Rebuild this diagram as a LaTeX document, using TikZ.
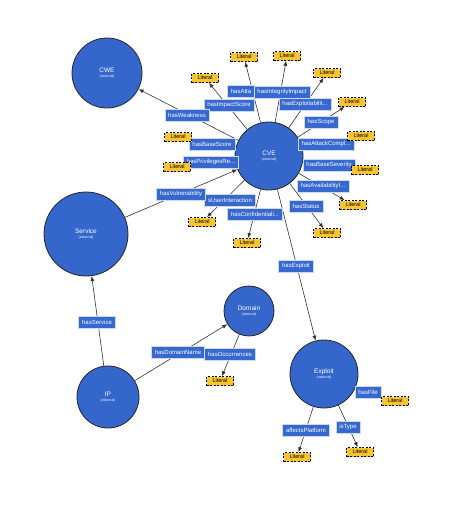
\documentclass[tikz,border=0pt]{standalone}
\usepackage{fontspec}
\setmainfont{Liberation Sans}
\usetikzlibrary{arrows.meta, backgrounds}

\definecolor{nodeblue}{HTML}{3566CC}
\definecolor{lblblue}{HTML}{3668D0}
\definecolor{litgold}{HTML}{F7C531}

\begin{document}
\begin{tikzpicture}[
  x=1pt, y=-1pt,
  res/.style={circle, draw=black!85, line width=0.8pt, fill=nodeblue,
              text=white, align=center, inner sep=0pt,
              font=\fontsize{6.5}{7}\selectfont},
  lbl/.style={draw=white!75!lblblue, line width=0.4pt, fill=lblblue,
              text=white, inner xsep=3.5pt, inner ysep=0pt,
              minimum height=12pt, font=\fontsize{6}{7}\selectfont},
  lit/.style={draw=black, dashed, dash pattern=on 2pt off 1.5pt,
              line width=0.7pt, fill=litgold, minimum width=27pt,
              minimum height=9pt, inner sep=1pt,
              font=\fontsize{5.5}{6}\selectfont},
  arr/.style={-{Latex[length=5pt, width=4pt]}, black!80, line width=0.6pt},
]
  \useasboundingbox (0,0) rectangle (465,512);

  %% ── Resources (circles) ──
  \node[res, minimum size=70pt] (cwe)     at (107, 73)
    {CWE\\[-2.5pt]{\fontsize{3.5}{4}\selectfont (external)}};
  \node[res, minimum size=68pt] (cve)     at (269,156)
    {CVE\\[-2.5pt]{\fontsize{3.5}{4}\selectfont (external)}};
  \node[res, minimum size=84pt] (service) at (86, 234)
    {Service\\[-2.5pt]{\fontsize{3.5}{4}\selectfont (external)}};
  \node[res, minimum size=50pt] (domain)  at (249,311)
    {Domain\\[-2.5pt]{\fontsize{3.5}{4}\selectfont (external)}};
  \node[res, minimum size=62pt] (ip)      at (108,397)
    {IP\\[-2.5pt]{\fontsize{3.5}{4}\selectfont (external)}};
  \node[res, minimum size=68pt] (exploit) at (324,374)
    {Exploit\\[-2.5pt]{\fontsize{3.5}{4}\selectfont (external)}};

  %% ── Property labels ──
  \node[lbl] (lav)   at (241, 91) {hasAtta};
  \node[lbl] (lii)   at (282, 92) {hasIntegrityImpact};
  \node[lbl] (lis)   at (229,105) {hasImpactScore};
  \node[lbl] (lex)   at (305,104) {hasExploitabilit...};
  \node[lbl] (lwk)   at (187,115) {hasWeakness};
  \node[lbl] (lsc)   at (321,122) {hasScope};
  \node[lbl] (lbs)   at (212,144) {hasBaseScore};
  \node[lbl] (lac)   at (326,144) {hasAttackCompl...};
  \node[lbl] (lpr)   at (211,162) {hasPrivilegesRe...};
  \node[lbl] (lsev)  at (329,165) {hasBaseSeverity};
  \node[lbl] (lui)   at (230,200) {sUserInteraction};
  \node[lbl] (lvul)  at (181,194) {hasVulnerability};
  \node[lbl] (lai)   at (323,186) {hasAvailabilityI...};
  \node[lbl] (lst)   at (306,206) {hasStatus};
  \node[lbl] (lci)   at (255,214) {hasConfidentiali...};
  \node[lbl] (lexp)  at (296,266) {hasExploit};
  \node[lbl] (lsvc)  at (97, 322) {hasService};
  \node[lbl] (ldn)   at (178,352) {hasDomainName};
  \node[lbl] (locc)  at (230,354) {hasOccurrences};
  \node[lbl] (lfile) at (368,392) {hasFile};
  \node[lbl] (lplat) at (306,430) {affectsPlatform};
  \node[lbl] (ltype) at (348,427) {isType};

  %% ── Literals ──
  \node[lit] (litav)   at (244, 57) {Literal};
  \node[lit] (litii)   at (287, 56) {Literal};
  \node[lit] (litis)   at (205, 78) {Literal};
  \node[lit] (litex)   at (327, 73) {Literal};
  \node[lit] (litsc)   at (352,102) {Literal};
  \node[lit] (litbs)   at (178,137) {Literal};
  \node[lit] (litac)   at (361,136) {Literal};
  \node[lit] (litpr)   at (177,167) {Literal};
  \node[lit] (litsev)  at (365,170) {Literal};
  \node[lit] (litai)   at (353,205) {Literal};
  \node[lit] (litst)   at (327,233) {Literal};
  \node[lit] (litci)   at (247,243) {Literal};
  \node[lit] (litui)   at (202,222) {Literal};
  \node[lit] (litocc)  at (220,381) {Literal};
  \node[lit] (litfile) at (395,401) {Literal};
  \node[lit] (litplat) at (297,457) {Literal};
  \node[lit] (littype) at (360,452) {Literal};

  %% ── Connectors (behind everything) ──
  \begin{pgfonlayer}{background}
    \foreach \l in {litav, litii, litis, litex, litsc, litbs, litac, litpr,
                    litsev, litai, litst, litci, litui}
      \draw[arr] (cve) -- (\l);
    \draw[arr] (cve) -- (cwe);
    \draw[arr] (service) -- (cve);
    \draw[arr] (cve) -- (exploit);
    \draw[arr] (ip) -- (service);
    \draw[arr] (ip) -- (domain);
    \draw[arr] (domain) -- (litocc);
    \foreach \l in {litfile, litplat, littype}
      \draw[arr] (exploit) -- (\l);
  \end{pgfonlayer}
\end{tikzpicture}
\end{document}
